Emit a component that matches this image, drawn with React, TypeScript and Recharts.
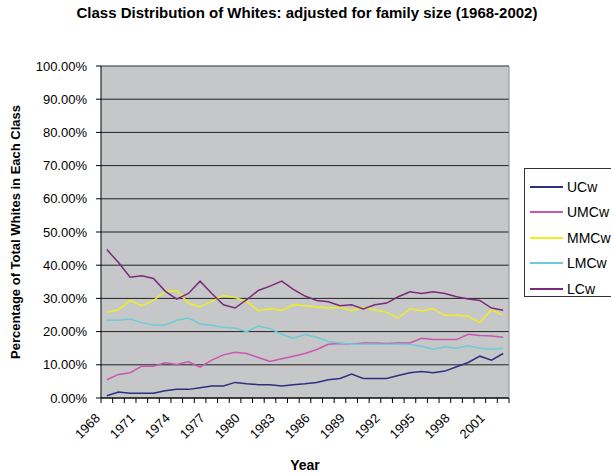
import React from 'react';
import { LineChart, Line, XAxis, YAxis, CartesianGrid, Legend, ReferenceLine, Label } from 'recharts';

// categories
const YEARS = [
  '1968', '1969', '1970', '1971', '1972', '1973', '1974', '1975', '1976', '1977',
  '1978', '1979', '1980', '1981', '1982', '1983', '1984', '1985', '1986', '1987',
  '1988', '1989', '1990', '1991', '1992', '1993', '1994', '1995', '1996', '1997',
  '1998', '1999', '2000', '2001', '2002',
];

// percent of total whites
const UCW = [0.7, 1.8, 1.4, 1.4, 1.4, 2.2, 2.6, 2.6, 3.1, 3.6, 3.6, 4.7, 4.3, 4.0, 4.0, 3.6, 4.0, 4.3, 4.7, 5.5, 5.9, 7.2, 5.9, 5.9, 5.9, 6.8, 7.6, 8.0, 7.6, 8.1, 9.4, 10.7, 12.6, 11.4, 13.4];
const UMCW = [5.5, 7.1, 7.6, 9.6, 9.6, 10.6, 10.1, 10.9, 9.3, 11.4, 13.0, 13.8, 13.4, 12.2, 11.0, 11.8, 12.6, 13.4, 14.6, 16.2, 16.4, 16.2, 16.6, 16.6, 16.4, 16.6, 16.6, 18.0, 17.6, 17.6, 17.6, 19.2, 18.8, 18.7, 18.3];
const MMCW = [25.8, 26.6, 29.4, 27.8, 29.4, 32.0, 32.3, 28.6, 27.4, 29.1, 30.9, 30.3, 29.1, 26.3, 26.9, 26.4, 28.1, 27.8, 27.4, 27.1, 27.3, 26.3, 27.3, 26.6, 25.8, 24.1, 26.9, 26.2, 26.9, 24.9, 24.9, 24.6, 22.8, 26.6, 24.9];
const LMCW = [23.4, 23.4, 23.8, 22.7, 22.0, 22.0, 23.4, 24.1, 22.3, 21.9, 21.2, 21.1, 20.0, 21.7, 20.9, 19.2, 18.0, 19.1, 18.3, 17.0, 16.6, 16.2, 16.2, 16.2, 16.2, 16.2, 16.1, 15.6, 14.7, 15.4, 15.0, 15.7, 15.0, 14.7, 15.0];
const LCW = [44.7, 40.8, 36.4, 36.8, 36.0, 32.2, 29.8, 31.5, 35.2, 31.5, 28.1, 27.1, 29.6, 32.4, 33.7, 35.2, 32.7, 30.7, 29.4, 29.0, 27.8, 28.1, 26.8, 28.1, 28.6, 30.5, 32.0, 31.5, 32.0, 31.5, 30.5, 29.8, 29.4, 27.1, 26.4];

const Y_TICKS = [0, 10, 20, 30, 40, 50, 60, 70, 80, 90, 100];

const SERIES = [
  { key: 'UCw', color: '#2e2e82' },
  { key: 'UMCw', color: '#c957b0' },
  { key: 'MMCw', color: '#eeee22' },
  { key: 'LMCw', color: '#6dccd9' },
  { key: 'LCw', color: '#7b2a7b' },
];

const data = YEARS.map((year, i) => ({
  year,
  UCw: UCW[i],
  UMCw: UMCW[i],
  MMCw: MMCW[i],
  LMCw: LMCW[i],
  LCw: LCW[i],
}));

const FONT = "Arial, 'Liberation Sans', sans-serif";
const PLOT_W = 408;
const HALF_STEP = PLOT_W / YEARS.length / 2;

// Excel style: tick marks between categories, label every third year
const YearTick = (props: any) => {
  const { x, y, index } = props;
  const last = index === YEARS.length - 1;
  return (
    <g>
      <line x1={x - HALF_STEP} x2={x - HALF_STEP} y1={y} y2={y + 5} stroke="#000" />
      {last && <line x1={x + HALF_STEP} x2={x + HALF_STEP} y1={y} y2={y + 5} stroke="#000" />}
      {index % 3 === 0 && (
        <text
          x={x - 6}
          y={y + 21}
          transform={`rotate(-45 ${x - 6} ${y + 21})`}
          textAnchor="end"
          fontSize={13}
          fontFamily={FONT}
          fill="#000"
        >
          {props.payload.value}
        </text>
      )}
    </g>
  );
};

const LegendBox = () => (
  <div style={{ border: '1px solid #333', background: '#fff', width: 100, height: 129, boxSizing: 'border-box', paddingTop: 5 }}>
    {SERIES.map((s) => (
      <div key={s.key} style={{ display: 'flex', alignItems: 'center', height: 25.5, fontFamily: FONT, fontSize: 14 }}>
        <span style={{ display: 'inline-block', width: 33, height: 0, borderTop: `2px solid ${s.color}`, marginLeft: 5, marginRight: 4 }} />
        <span>{s.key}</span>
      </div>
    ))}
  </div>
);

const App: React.FC = () => {
  return (
    <div style={{ position: 'relative', width: 611, height: 474, overflow: 'hidden', background: '#fff' }}>
      <style>{'body{margin:0}'}</style>
      <div style={{ position: 'absolute', top: 4, left: 0, width: 614, textAlign: 'center', fontFamily: FONT, fontWeight: 'bold', fontSize: 15, lineHeight: '18px', zIndex: 2 }}>
        Class Distribution of Whites: adjusted for family size (1968-2002)
      </div>
      <LineChart width={611} height={474} data={data} margin={{ top: 66, right: 101, bottom: 0, left: 0 }}>
        <CartesianGrid vertical={false} stroke="#222" fill="#c6c7c9" fillOpacity={1} />
        <XAxis
          dataKey="year"
          interval={0}
          height={76}
          tickSize={0}
          tickMargin={0}
          tickLine={false}
          axisLine={{ stroke: '#000' }}
          padding={{ left: HALF_STEP, right: HALF_STEP }}
          tick={<YearTick />}
        >
          <Label
            content={({ viewBox }: any) => (
              <text x={viewBox.x + viewBox.width / 2} y={viewBox.y + viewBox.height - 4} textAnchor="middle" fontFamily={FONT} fontSize={14} fontWeight="bold">
                Year
              </text>
            )}
          />
        </XAxis>
        <YAxis
          width={101}
          domain={[0, 100]}
          ticks={Y_TICKS}
          interval={0}
          tickSize={5}
          tickMargin={9}
          tickFormatter={(v: number) => `${v.toFixed(2)}%`}
          tick={{ fill: '#000', fontSize: 13, fontFamily: FONT }}
          tickLine={{ stroke: '#000' }}
          axisLine={{ stroke: '#000' }}
        >
          <Label
            content={({ viewBox }: any) => {
              const cx = 20;
              const cy = viewBox.y + viewBox.height / 2;
              return (
                <text x={cx} y={cy} transform={`rotate(-90 ${cx} ${cy})`} textAnchor="middle" fontFamily={FONT} fontSize={13} fontWeight="bold">
                  Percentage of Total Whites in Each Class
                </text>
              );
            }}
          />
        </YAxis>
        <YAxis yAxisId="edge" orientation="right" width={1} domain={[0, 100]} tick={false} tickLine={false} axisLine={{ stroke: '#8c8c8c' }} />
        <ReferenceLine y={100} stroke="#8c8c8c" />
        <Legend
          layout="horizontal"
          align="center"
          verticalAlign="middle"
          content={<LegendBox />}
          wrapperStyle={{ position: 'absolute', left: 524, top: 168, width: 100 }}
        />
        {SERIES.map((s) => (
          <Line key={s.key} type="linear" dataKey={s.key} stroke={s.color} strokeWidth={1.5} dot={false} isAnimationActive={false} />
        ))}
      </LineChart>
    </div>
  );
};

export default App;
